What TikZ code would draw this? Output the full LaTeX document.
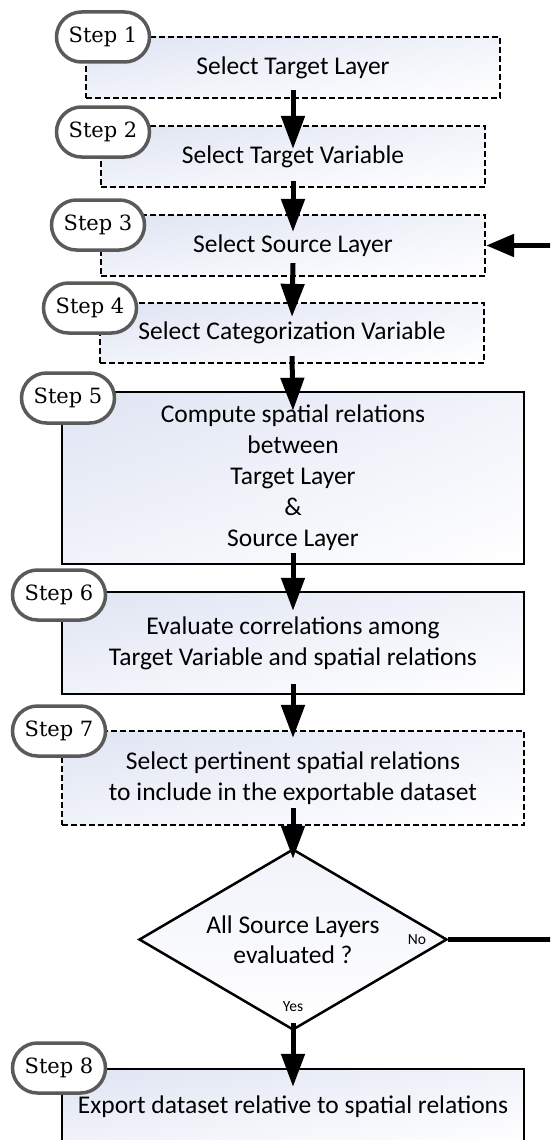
\documentclass[tikz,border=0pt]{standalone}
\usepackage{fontspec}
\newfontfamily\bodyfont{Carlito}
\newfontfamily\stepfont{DejaVu Serif}
\usetikzlibrary{arrows.meta,shapes.misc,shapes.geometric,shadings}
\definecolor{pillgray}{RGB}{90,90,90}
\definecolor{shadeA}{RGB}{222,228,242}
\definecolor{shadeB}{RGB}{241,243,250}
\tikzset{
 box/.style={rectangle, draw=black, line width=2.5pt, shade, upper left=shadeA, upper right=shadeB, lower left=shadeB, lower right=white, font=\bodyfont\fontsize{25.5}{31}\selectfont, align=center, inner sep=0pt},
 dbox/.style={box, line width=2.2pt, dash pattern=on 6pt off 3pt},
 pill/.style={rounded rectangle, draw=pillgray, line width=3.5pt, fill=white, minimum width=93pt, minimum height=50pt, inner sep=0pt, font=\stepfont\fontsize{21}{25}\selectfont},
 decision/.style={diamond, draw=black, line width=2.5pt, shade, upper left=shadeB, upper right=shadeB, lower left=white, lower right=white, aspect=1.7, inner sep=0pt, minimum width=308pt, minimum height=181pt, font=\bodyfont\fontsize{25.5}{30}\selectfont, align=center},
 arr/.style={line width=5pt, -{Triangle[length=33pt,width=23pt]}},
 lbl/.style={font=\bodyfont\fontsize{15.5}{16}\selectfont, inner sep=0pt}
}
\begin{document}
\begin{tikzpicture}[x=1pt,y=-1pt]
\useasboundingbox (0,0) rectangle (550,1140);
\clip (0,0) rectangle (550,1140);
% boxes
\node[dbox, minimum width=414pt, minimum height=61pt] (b1) at (293,67.5) {Select Target Layer};
\node[dbox, minimum width=384pt, minimum height=61pt] (b2) at (293,156.5) {Select Target Variable};
\node[dbox, minimum width=384pt, minimum height=61pt] (b3) at (293,245.5) {Select Source Layer};
\node[dbox, minimum width=384pt, minimum height=60pt] (b4) at (292,333) {Select Categorization Variable};
\node[box, minimum width=462pt, minimum height=172pt] (b5) at (293,478) {Compute spatial relations\\between\\Target Layer\\\&\\Source Layer};
\node[box, minimum width=462pt, minimum height=102pt] (b6) at (293,643) {Evaluate correlations among\\Target Variable and spatial relations};
\node[dbox, minimum width=462pt, minimum height=94pt] (b7) at (293,778) {Select pertinent spatial relations\\to include in the exportable dataset};
\node[decision] (dia) at (293,939.5) {All Source Layers\\evaluated ?};
\node[box, minimum width=462pt, minimum height=76pt] (b8) at (293,1107) {Export dataset relative to spatial relations};
% step pills
\node[pill] (p1) at (103,37) {Step 1};
\node[pill] (p2) at (103,132) {Step 2};
\node[pill] (p3) at (98,225) {Step 3};
\node[pill] (p4) at (90,308) {Step 4};
\node[pill] (p5) at (68,398) {Step 5};
\node[pill] (p6) at (59,595) {Step 6};
\node[pill] (p7) at (59,731) {Step 7};
\node[pill] (p8) at (59,1068) {Step 8};
% labels
\node[lbl] (no) at (417,940) {No};
\node[lbl] (yes) at (293,1007) {Yes};
% arrows
\draw[arr] ([yshift=9pt]b1.south) -- ([yshift=-24pt]b2.north);
\draw[arr] ([yshift=7pt]b2.south) -- ([yshift=-18pt]b3.north);
\draw[arr] ([yshift=14pt]b3.south) -- ([yshift=-15pt]b4.north);
\draw[arr] ([yshift=8pt]b4.south) -- ([yshift=-20pt]b5.north);
\draw[arr] ([yshift=12pt]b5.south) -- ([yshift=-20pt]b6.north);
\draw[arr] ([yshift=11pt]b6.south) -- ([yshift=-8pt]b7.north);
\draw[arr] ([yshift=18pt]b7.south) -- ([yshift=-11pt]dia.north);
\draw[arr] ([yshift=8pt]dia.south) -- ([yshift=-19pt]b8.north);
\draw[line width=5pt, -{Triangle[length=28pt,width=22pt]}] (dia.east) -- ++(120,0) |- (b3.east);
\end{tikzpicture}
\end{document}
